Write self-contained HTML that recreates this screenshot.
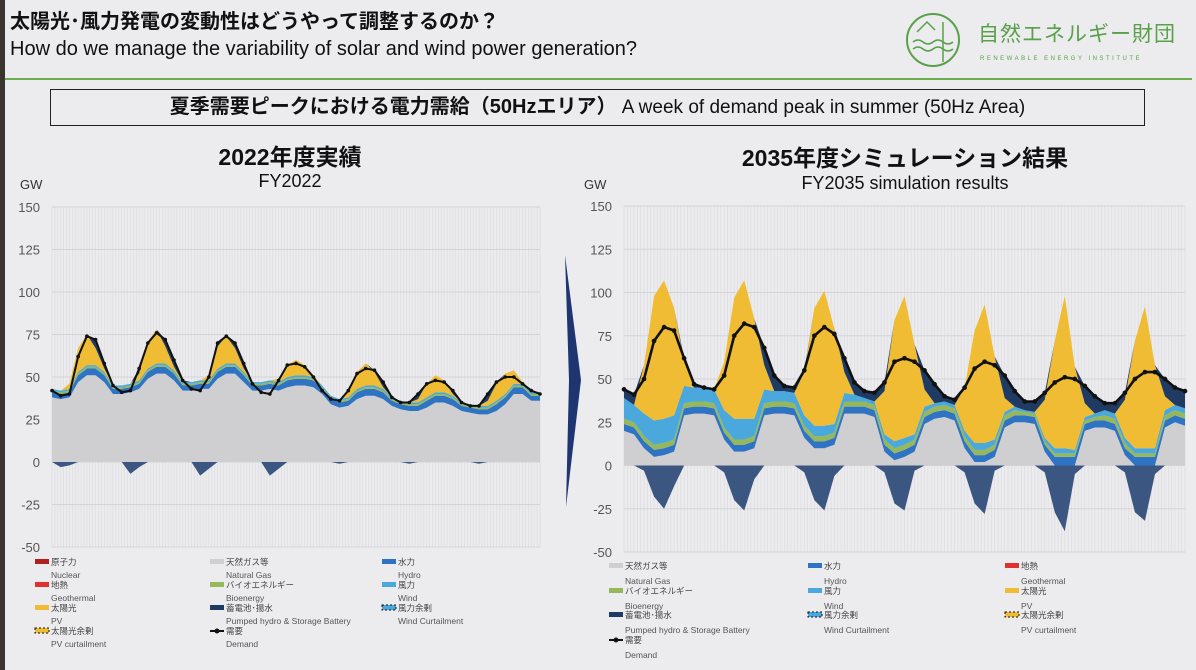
<!DOCTYPE html>
<html><head><meta charset="utf-8">
<style>
body{margin:0;width:1196px;height:670px;background:#ececef;overflow:hidden;font-family:"Liberation Sans","Noto Sans CJK JP",sans-serif;position:relative}
.abs{position:absolute;white-space:nowrap;line-height:1}
</style></head><body>
<div class="abs" style="left:0;top:0;width:5px;height:670px;background:#3a3430"></div>
<div class="abs" style="left:10px;top:12px;font-size:20px;font-weight:bold;color:#111">太陽光･風力発電の変動性はどうやって調整するのか？</div>
<div class="abs" style="left:10px;top:39px;font-size:20px;color:#111">How do we manage the variability of solar and wind power generation?</div>
<div class="abs" style="left:905px;top:12px;width:250px;height:56px">
 <svg width="60" height="56"><circle cx="28" cy="28" r="26" fill="none" stroke="#5aa04a" stroke-width="2"/><path d="M8 30 q5 -4 10 0 t10 0 t10 0 t10 0 M8 37 q5 -4 10 0 t10 0 t10 0 t10 0 M12 20 l10 -10 l8 8" fill="none" stroke="#5aa04a" stroke-width="1.5"/><line x1="38" y1="10" x2="38" y2="50" stroke="#5aa04a" stroke-width="1.5"/></svg>
 <div class="abs" style="left:73px;top:12px;font-size:21px;color:#5aa04a;letter-spacing:1px">自然エネルギー財団</div>
 <div class="abs" style="left:75px;top:44px;font-size:6px;color:#5aa04a;letter-spacing:2.5px">RENEWABLE ENERGY INSTITUTE</div>
</div>
<div class="abs" style="left:5px;top:78px;width:1187px;height:2px;background:#6ab04c"></div>
<div class="abs" style="left:50px;top:89px;width:1093px;height:35px;border:1.5px solid #222;text-align:center;line-height:35px">
 <span style="font-size:20px;font-weight:bold;color:#111">夏季需要ピークにおける電力需給（50Hzエリア）</span><span style="font-size:19px;color:#111">&nbsp;A week of demand peak in summer (50Hz Area)</span>
</div>
<div class="abs" style="left:140px;width:300px;top:146px;text-align:center;font-size:23px;font-weight:bold;color:#111">2022年度実績</div>
<div class="abs" style="left:140px;width:300px;top:172px;text-align:center;font-size:18px;color:#111">FY2022</div>
<div class="abs" style="left:705px;width:400px;top:147px;text-align:center;font-size:23px;font-weight:bold;color:#111">2035年度シミュレーション結果</div>
<div class="abs" style="left:705px;width:400px;top:174px;text-align:center;font-size:18px;color:#111">FY2035 simulation results</div>

<svg id="chart" class="abs" style="left:0;top:0" width="1196" height="670"></svg>

<script>
// ---- FY2022 data (values every 3 hours, 0..168) ----
const L_demand=[42,39,40,62,74,72,58,45, 41,42,55,70,76,72,60,48, 43,42,50,70,74,70,58,46, 41,40,48,57,58,56,50,42, 37,36,42,52,55,54,47,38, 35,35,40,46,48,47,42,35, 33,33,40,47,50,50,46,42, 40];
const L_gas=[38,37,38,47,51,51,47,40, 40,41,43,49,52,52,48,42, 42,43,43,49,52,52,47,42, 42,43,42,44,45,45,44,40, 34,32,33,37,39,39,37,33, 31,30,30,32,35,35,33,30, 29,28,28,30,34,40,40,36, 36];
const L_hydro=[3,3,3,4,4,4,4,3, 3,3,3,4,4,4,4,3, 3,3,3,4,4,4,4,3, 3,3,3,4,4,4,4,3, 3,3,3,4,4,4,4,3, 3,3,3,4,4,4,4,3, 3,3,3,4,4,4,4,3, 3];
const L_bio=[1,1,1,1,1,1,1,1, 1,1,1,1,1,1,1,1, 1,1,1,1,1,1,1,1, 1,1,1,1,1,1,1,1, 1,1,1,1,1,1,1,1, 1,1,1,1,1,1,1,1, 1,1,1,1,1,1,1,1, 1];
const L_wind=[1,1,1,1,1,1,1,1, 1,1,1,1,1,1,1,1, 1,1,1,1,1,1,1,1, 1,1,1,1,1,1,1,1, 1,1,1,1,1,1,1,1, 1,1,1,1,1,1,1,1, 1,1,1,1,1,1,1,1, 1];
const L_pv=[0,0,3,14,18,10,2,0, 0,0,4,16,20,10,2,0, 0,0,3,13,16,9,2,0, 0,0,2,7,9,6,1,0, 0,0,3,10,13,8,1,0, 0,0,2,8,10,7,1,0, 0,0,3,10,12,8,1,0, 0];
const L_pump=[0,-3,-2,0,0,0,0,0, 0,-7,-3,0,0,0,0,0, 0,-8,-4,0,0,0,0,0, 0,-8,-4,0,0,0,0,0, 0,-1,0,0,0,0,0,0, 0,-1,0,0,0,0,0,0, 0,-1,0,0,0,0,0,0, 0];
// ---- FY2035 data ----
const R_demand=[44,41,50,72,80,78,62,47, 45,44,52,75,82,80,68,52, 46,45,55,75,80,76,62,48, 43,42,48,60,62,60,55,47, 40,38,45,56,60,58,52,43, 37,37,42,48,51,50,46,40, 36,36,42,50,54,54,50,45, 43];
const R_gas=[20,18,10,5,6,8,29,30, 30,29,15,8,8,10,29,30, 30,29,16,10,10,12,30,30, 30,28,8,3,5,8,24,27, 28,26,10,2,2,5,22,25, 25,24,8,0,0,0,20,22, 22,20,6,0,0,0,22,25, 23];
const R_hydro=[4,4,4,4,4,4,4,4, 4,4,4,4,4,4,4,4, 4,4,4,4,4,4,4,4, 4,4,4,4,4,4,4,4, 4,4,4,4,4,4,4,4, 4,4,4,5,5,5,4,4, 4,4,4,5,5,5,4,4, 4];
const R_bio=[3,3,3,3,3,3,3,3, 3,3,3,3,3,3,3,3, 3,3,3,3,3,3,3,3, 3,3,3,3,3,3,3,3, 3,3,3,3,3,3,3,3, 2,2,2,2,2,2,2,2, 3,3,3,2,2,2,3,3, 3];
const R_wind=[12,10,13,14,14,14,10,8, 8,8,10,12,12,10,8,6, 6,6,6,6,6,5,5,4, 2,2,3,4,4,3,3,2, 2,2,3,4,4,3,2,2, 1,1,2,3,3,2,2,2, 3,3,3,3,3,3,3,3, 3];
const R_pv=[0,0,28,72,80,62,14,0, 0,0,28,70,80,58,14,0, 0,0,25,68,78,55,12,0, 0,0,25,70,82,52,10,0, 0,0,25,65,80,48,8,0, 0,0,22,62,88,48,8,0, 0,0,22,62,82,48,8,0, 0];
const R_pump=[0,0,-3,-18,-25,-12,0,0, 0,0,-4,-20,-26,-8,0,0, 0,0,-4,-20,-26,-6,0,0, 0,0,-4,-22,-26,-3,0,0, 0,0,-4,-22,-28,-3,0,0, 0,0,-4,-27,-38,-5,0,0, 0,0,-4,-27,-32,-5,0,0, 0];
const yTicks=[150,125,100,75,50,25,0,-25,-50];

const svg=document.getElementById('chart');
const NS='http://www.w3.org/2000/svg';
function mk(tag,attrs,parent){const e=document.createElementNS(NS,tag);for(const k in attrs)e.setAttribute(k,attrs[k]);(parent||svg).appendChild(e);return e;}

function drawChart(cfg){
  const g=mk('g',{});
  
  
  const X=i=>cfg.x0+(i*3)/168*(cfg.x1-cfg.x0);
  const Y=v=>cfg.y0+(150-v)/200*(cfg.y1-cfg.y0);
  for(let h=0;h<=168;h++){const x=cfg.x0+h/168*(cfg.x1-cfg.x0);const l=mk('line',{x1:x,x2:x,y1:cfg.y0,y2:cfg.y1,stroke:'#dcdce0','stroke-width':0.7},g);}
  yTicks.forEach(t=>{const l=mk('line',{x1:cfg.x0,x2:cfg.x1,y1:Y(t),y2:Y(t),stroke:'#d4d4d8','stroke-width':1},g);
    const tx=mk('text',{x:cfg.x0-12,y:Y(t)+5,'text-anchor':'end','font-size':13,fill:'#555'},g);tx.textContent=t;});
  const n=cfg.demand.length;
  const base=new Array(n).fill(0);
  const layers=cfg.layers.slice();
  const stor=[];for(let i=0;i<n;i++){let s=0;layers.forEach(L=>s+=L.v[i]);stor.push(Math.max(0,cfg.demand[i]-s));}
  layers.push({v:stor,c:'#1f3b63',name:'storage-area'});
  layers.forEach(L=>{
    const top=base.map((b,i)=>b+L.v[i]);
    let d='M'+X(0)+','+Y(top[0]);
    for(let i=1;i<n;i++)d+='L'+X(i)+','+Y(top[i]);
    for(let i=n-1;i>=0;i--)d+='L'+X(i)+','+Y(base[i]);
    const p=mk('path',{d:d+'Z',fill:L.c},g);
    for(let i=0;i<n;i++)base[i]=top[i];
  });
  let d='M'+X(0)+','+Y(0);for(let i=0;i<n;i++)d+='L'+X(i)+','+Y(cfg.pump[i]);d+='L'+X(n-1)+','+Y(0)+'Z';
  const pn=mk('path',{d:d,fill:'#3b5680'},g);
  let dl='';cfg.demand.forEach((v,i)=>dl+=(i?'L':'M')+X(i)+','+Y(v));
  const ln=mk('path',{d:dl,fill:'none',stroke:'#111','stroke-width':cfg.lw},g);
  cfg.demand.forEach((v,i)=>{const c=mk('circle',{cx:X(i),cy:Y(v),r:cfg.lw*0.9,fill:'#111'},g);});
  const gw=mk('text',{x:cfg.gwx,y:189,'font-size':13,fill:'#333'},g);gw.textContent='GW';
}
drawChart({name:'fy2022-chart',x0:52,x1:540,y0:207,y1:547,gwx:20,demand:L_demand,pump:L_pump,lw:2,
  layers:[{v:L_gas,c:'#cfcfd2',name:'gas-area'},{v:L_hydro,c:'#2f73c4',name:'hydro-area'},{v:L_bio,c:'#96b85a',name:'bio-area'},{v:L_wind,c:'#4aa8dc',name:'wind-area'},{v:L_pv,c:'#f0bc33',name:'pv-area'}]});
drawChart({name:'fy2035-chart',x0:624,x1:1185,y0:206,y1:552,gwx:584,demand:R_demand,pump:R_pump,lw:2.6,
  layers:[{v:R_gas,c:'#cfcfd2',name:'gas-area'},{v:R_hydro,c:'#2f73c4',name:'hydro-area'},{v:R_bio,c:'#96b85a',name:'bio-area'},{v:R_wind,c:'#4aa8dc',name:'wind-area'},{v:R_pv,c:'#f0bc33',name:'pv-area'}]});

const ar=mk('polygon',{points:'565,255 581,380 566,507 569,380',fill:'#1f3572'});



function legend(items,cols,rows,rowH){
  items.forEach((it,k)=>{
    const x=cols[k%3],y=rows[Math.floor(k/3)];
    let sw;
    if(it.t==='line'){sw=mk('line',{x1:x,x2:x+14,y1:y-3,y2:y-3,stroke:'#111','stroke-width':2});mk('circle',{cx:x+7,cy:y-3,r:2.5,fill:'#111'});}
    else if(it.t==='hatch'){sw=mk('rect',{x:x,y:y-6,width:14,height:5,fill:it.c,stroke:'#111','stroke-dasharray':'2,2','stroke-width':1});}
    else sw=mk('rect',{x:x,y:y-6,width:14,height:5,fill:it.c});
    
    
    const t1=mk('text',{x:x+16,y:y,'font-size':8.5,fill:'#444'});t1.textContent=it.jp;
    
    
    const t2=mk('text',{x:x+16,y:y+rowH,'font-size':8.5,fill:'#555'});t2.textContent=it.en;
    
    
  });
}
legend([{c:'#b02020',jp:'原子力',en:'Nuclear'},{c:'#cfcfd2',jp:'天然ガス等',en:'Natural Gas'},{c:'#2f73c4',jp:'水力',en:'Hydro'},
 {c:'#e03030',jp:'地熱',en:'Geothermal'},{c:'#96b85a',jp:'バイオエネルギー',en:'Bioenergy'},{c:'#4aa8dc',jp:'風力',en:'Wind'},
 {c:'#f0bc33',jp:'太陽光',en:'PV'},{c:'#1f3b63',jp:'蓄電池･揚水',en:'Pumped hydro & Storage Battery'},{t:'hatch',c:'#4aa8dc',jp:'風力余剰',en:'Wind Curtailment'},
 {t:'hatch',c:'#f0bc33',jp:'太陽光余剰',en:'PV curtailment'},{t:'line',jp:'需要',en:'Demand'}],[35,210,382],[565,588,611,634],13);
legend([{c:'#cfcfd2',jp:'天然ガス等',en:'Natural Gas'},{c:'#2f73c4',jp:'水力',en:'Hydro'},{c:'#e03030',jp:'地熱',en:'Geothermal'},
 {c:'#96b85a',jp:'バイオエネルギー',en:'Bioenergy'},{c:'#4aa8dc',jp:'風力',en:'Wind'},{c:'#f0bc33',jp:'太陽光',en:'PV'},
 {c:'#1f3b63',jp:'蓄電池･揚水',en:'Pumped hydro & Storage Battery'},{t:'hatch',c:'#4aa8dc',jp:'風力余剰',en:'Wind Curtailment'},{t:'hatch',c:'#f0bc33',jp:'太陽光余剰',en:'PV curtailment'},
 {t:'line',jp:'需要',en:'Demand'}],[609,808,1005],[569,594,618,643],15);
</script>
</body></html>
